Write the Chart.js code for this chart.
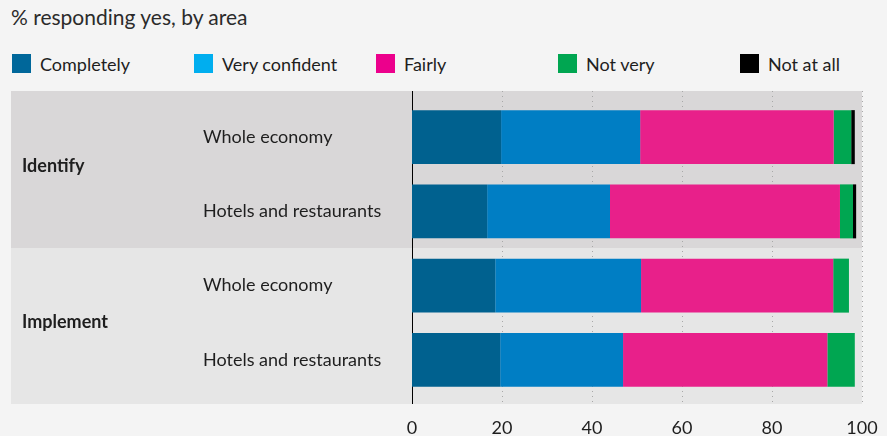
<!DOCTYPE html>
<html>
<head>
<meta charset="utf-8">
<script src="https://cdn.jsdelivr.net/npm/chart.js@4"></script>
<style>
  html, body { margin: 0; padding: 0; background: #f4f4f4; }
  body { width: 887px; height: 436px; position: relative; overflow: hidden; font-family: Lato, 'Open Sans', sans-serif; color: #1e1e1e; }
  #title { position: absolute; left: 11px; top: 4px; font-size: 21px; line-height: 26px; color: #2b2b2b; white-space: nowrap; }
  #legend { position: absolute; left: 12px; top: 53px; height: 22px; }
  .item { position: absolute; top: 0; white-space: nowrap; font-size: 18px; line-height: 22px; }
  .swatch { position: absolute; left: 0; top: 1px; width: 19px; height: 19px; }
  .item span.txt { position: absolute; left: 28px; top: 0; }
  #wrap { position: absolute; left: 0; top: 0; width: 887px; height: 436px; }
</style>
</head>
<body>
<div id="title">% responding yes, by area</div>
<div id="legend"></div>
<div id="wrap"><canvas id="chart" width="887" height="436"></canvas></div>
<script>
// Data
const groups = ['Identify', 'Implement'];
const categories = ['Whole economy', 'Hotels and restaurants', 'Whole economy', 'Hotels and restaurants'];
const seriesNames = ['Completely', 'Very confident', 'Fairly', 'Not very', 'Not at all'];
const completely = [19.8, 16.7, 18.5, 19.6];
const veryConfident = [30.9, 27.3, 32.4, 27.3];
const fairly = [43.0, 51.1, 42.7, 45.4];
const notVery = [3.9, 2.9, 3.5, 6.1];
const notAtAll = [0.8, 0.7, 0, 0];
const xTicks = [0, 20, 40, 60, 80, 100];

(function () {
  'use strict';

  const barColors = ['#00618f', '#007ec4', '#e8208a', '#00a651', '#000000'];
  const legendColors = ['#00679a', '#00aeef', '#ec008c', '#00a651', '#000000'];
  const bandColors = ['#d9d7d8', '#e6e6e6'];
  const values = [completely, veryConfident, fairly, notVery, notAtAll];
  const fontFamily = 'Lato, "Open Sans", sans-serif';

  // HTML legend, one item every 182px
  const legendEl = document.getElementById('legend');
  seriesNames.forEach(function (name, i) {
    const item = document.createElement('div');
    item.className = 'item';
    item.style.left = i * 182 + 'px';
    item.innerHTML = '<div class="swatch" style="background:' + legendColors[i] + '"></div><span class="txt">' + name + '</span>';
    legendEl.appendChild(item);
  });

  // Group bands, dotted grid, zero line and group labels
  const groupBands = {
    id: 'groupBands',
    beforeDraw: function (chart) {
      const ctx = chart.ctx;
      const area = chart.chartArea;
      const y = chart.scales.y;
      const top = area.top - 9;
      const bottom = area.bottom + 7;
      const perGroup = categories.length / groups.length;
      ctx.save();
      groups.forEach(function (g, i) {
        const first = i * perGroup;
        const last = first + perGroup - 1;
        const y0 = i === 0 ? top : (y.getPixelForValue(first - 1) + y.getPixelForValue(first)) / 2;
        const y1 = i === groups.length - 1 ? bottom : (y.getPixelForValue(last) + y.getPixelForValue(last + 1)) / 2;
        ctx.fillStyle = bandColors[i];
        ctx.fillRect(11, y0, area.right - 11, y1 - y0);
        ctx.fillStyle = '#1e1e1e';
        ctx.font = 'bold 18px ' + fontFamily;
        ctx.textAlign = 'left';
        ctx.textBaseline = 'middle';
        ctx.fillText(g, 22, (y0 + y1) / 2 - 4);
      });
      ctx.restore();
    },
    beforeDatasetsDraw: function (chart) {
      const ctx = chart.ctx;
      const area = chart.chartArea;
      const x = chart.scales.x;
      const top = area.top - 9;
      const bottom = area.bottom + 7;
      ctx.save();
      ctx.strokeStyle = '#a8a8a8';
      ctx.lineWidth = 1;
      ctx.setLineDash([1, 4]);
      x.ticks.forEach(function (t) {
        if (t.value === 0) return;
        const px = Math.round(x.getPixelForValue(t.value)) + 0.5;
        ctx.beginPath();
        ctx.moveTo(px, top);
        ctx.lineTo(px, bottom);
        ctx.stroke();
      });
      ctx.setLineDash([]);
      ctx.strokeStyle = '#000';
      const zx = Math.round(x.getPixelForValue(0)) + 0.5;
      ctx.beginPath();
      ctx.moveTo(zx, top);
      ctx.lineTo(zx, bottom);
      ctx.stroke();
      ctx.restore();
    }
  };

  new Chart(document.getElementById('chart'), {
    type: 'bar',
    data: {
      labels: categories,
      datasets: seriesNames.map(function (name, i) {
        return {
          label: name,
          data: values[i],
          backgroundColor: barColors[i],
          borderWidth: 0,
          barPercentage: 0.727,
          categoryPercentage: 1
        };
      })
    },
    options: {
      indexAxis: 'y',
      responsive: false,
      animation: false,
      layout: { padding: { top: 100, left: 203, right: 25, bottom: 0 } },
      plugins: {
        legend: { display: false },
        tooltip: { enabled: false }
      },
      scales: {
        x: {
          stacked: true,
          min: 0,
          max: 100,
          afterBuildTicks: function (scale) {
            scale.ticks = xTicks.map(function (v) { return { value: v }; });
          },
          afterFit: function (scale) {
            scale.height = 39;
            scale.paddingLeft = 0;
            scale.paddingRight = 0;
          },
          grid: { display: false, drawTicks: false },
          border: { display: false },
          ticks: { color: '#1e1e1e', padding: 20, font: { family: fontFamily, size: 18 } }
        },
        y: {
          stacked: true,
          afterFit: function (scale) { scale.width = 209; },
          grid: { display: false, drawTicks: false },
          border: { display: false },
          ticks: { crossAlign: 'far', color: '#1e1e1e', padding: 0, font: { family: fontFamily, size: 18 } }
        }
      }
    },
    plugins: [groupBands]
  });
})();
</script>
</body>
</html>
